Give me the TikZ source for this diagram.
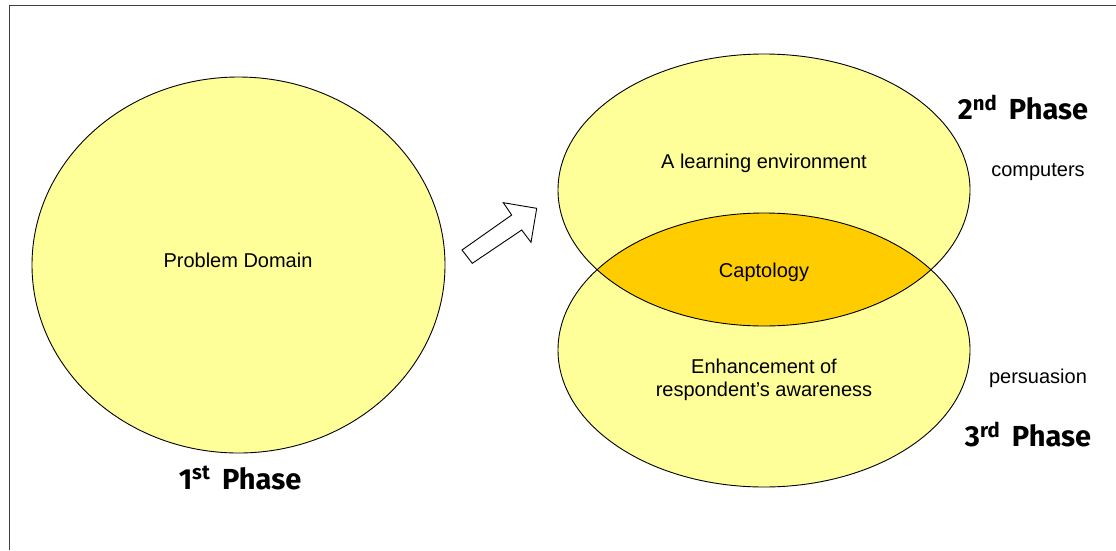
\documentclass[tikz,border=0pt]{standalone}
\usepackage{fontspec}
\setmainfont{Liberation Sans}
\newfontfamily\phasefont{Fira Sans}
\definecolor{paleyellow}{RGB}{255,255,153}
\definecolor{lensgold}{RGB}{255,204,0}
\tikzset{
	blob/.style={fill=paleyellow, draw=black, line width=0.9pt},
	txt/.style={font=\fontsize{20}{23}\selectfont, align=center, inner sep=0pt},
	phasetxt/.style={font=\phasefont\bfseries\fontsize{29}{32}\selectfont, inner sep=0pt}
}
\begin{document}
\begin{tikzpicture}[x=1pt,y=-1pt]
	\useasboundingbox (0,0) rectangle (1116,550);
	% frame
	\draw[line width=1.4pt, black!75] (9.5,550) -- (9.5,5.5) -- (1116,5.5);
	% the three ellipses
	\def\domain{(238.5,265) ellipse [x radius=206.5, y radius=188]}
	\def\learn{(764,190) ellipse [x radius=206, y radius=136]}
	\def\aware{(764,350) ellipse [x radius=206, y radius=137]}
	\path[blob] \domain;
	\fill[paleyellow] \learn;
	\fill[paleyellow] \aware;
	\begin{scope}
		\clip \learn;
		\fill[lensgold] \aware;
	\end{scope}
	\draw[line width=0.9pt] \learn;
	\draw[line width=0.9pt] \aware;
	% block arrow
	\draw[line width=0.9pt, fill=white] (462,250) -- (511.7,215) -- (503.3,202.7) -- (536.7,208.3)
		-- (531,242.3) -- (521.7,230) -- (472.3,263.3) -- cycle;
	% labels
	\node[txt] (problem) at (238,260) {Problem Domain};
	\node[txt] (environment) at (764,163) {A learning environment};
	\node[txt] (captology) at (764,272) {Captology};
	\node[txt] (enhancement) at (764,380) {Enhancement of\\respondent’s awareness};
	\node[txt] (computers) at (1038,172) {computers};
	\node[txt] (persuasion) at (1038,378) {persuasion};
	\node[phasetxt] (phaseone) at (240,478) {1\textsuperscript{st}\, Phase};
	\node[phasetxt] (phasetwo) at (1023,108) {2\textsuperscript{nd}\, Phase};
	\node[phasetxt] (phasethree) at (1028,435) {3\textsuperscript{rd}\, Phase};
\end{tikzpicture}
\end{document}
